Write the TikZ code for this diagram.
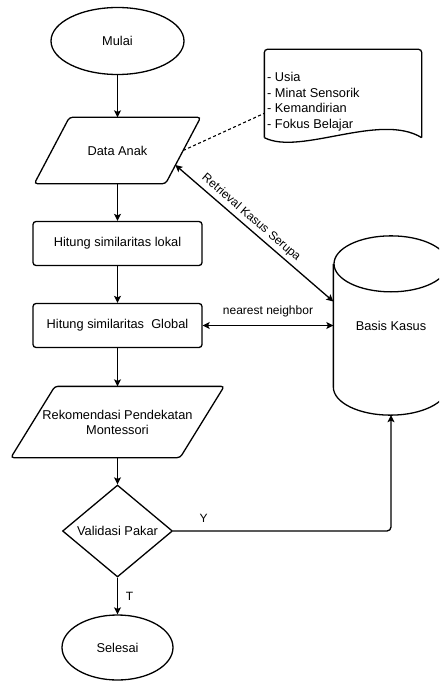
\documentclass[tikz,border=0pt]{standalone}
\usepackage{fontspec}
\setmainfont{Liberation Sans}
\usetikzlibrary{shapes.geometric,arrows.meta,calc}
\begin{document}
\begin{tikzpicture}[x=1pt,y=1pt,
  line width=1.3pt,
  >={Stealth[length=7pt,width=7pt,inset=1.5pt]},
  every node/.style={font=\fontsize{12.8}{15}\selectfont, text=black},
  term/.style={ellipse, draw, minimum width=133pt, minimum height=67pt, inner sep=0pt},
  proc/.style={rectangle, draw, rounded corners=3pt, minimum width=169pt, minimum height=44pt, inner sep=0pt},
  iotext/.style={rectangle, inner sep=0pt, align=center},
  dec/.style={diamond, draw, minimum width=110pt, minimum height=92pt, inner sep=0pt, aspect=1.2},
  lbl/.style={font=\fontsize{12}{14}\selectfont},
  para/.style={rounded corners=3pt},
]
\clip (0,0) rectangle (439,-682);

% nodes
\node[term] (mulai) at (117.5,-41) {Mulai};
\node[iotext, minimum width=130pt, minimum height=65pt] (da) at (117.5,-150.5) {Data Anak};
\draw[para] ($(da.south west)+(-17.5,0)$) -- ($(da.north west)+(17.5,0)$) -- ($(da.north east)+(17.5,0)$) -- ($(da.south east)+(-17.5,0)$) -- cycle;

\node[proc] (hl) at (117.5,-243.5) {Hitung similaritas lokal};
\node[proc] (hg) at (117.5,-325.5) {Hitung similaritas\ \ Global};

\node[iotext, minimum width=168pt, minimum height=70pt] (rek) at (117.5,-422) {Rekomendasi Pendekatan\\Montessori};
\draw[para] ($(rek.south west)+(-22,0)$) -- ($(rek.north west)+(22,0)$) -- ($(rek.north east)+(22,0)$) -- ($(rek.south east)+(-22,0)$) -- cycle;

\node[dec] (vp) at (117.5,-531) {Validasi Pakar};
\node[term, minimum width=111pt, minimum height=65pt] (sel) at (117.5,-647.5) {Selesai};

% Basis Kasus cylinder
\node[iotext, minimum width=114pt, minimum height=178pt] (bk) at (391,-325.5) {Basis Kasus};
\draw ($(bk.north west)+(0,-28)$) -- ($(bk.south west)+(0,28)$)
  arc[start angle=180, end angle=360, x radius=57, y radius=28] -- ($(bk.north east)+(0,-28)$);
\draw ($(bk.north)+(0,-28)$) ellipse [x radius=57, y radius=28];

% document
\node[rectangle, inner sep=0pt, minimum width=156pt, minimum height=87pt] (doc) at (343,-93.5) {};
\draw[rounded corners=3pt] (doc.south west) -- (doc.north west) -- (doc.north east) -- (doc.south east);
\draw (doc.south east) .. controls (380,-112) and (300,-156) .. (doc.south west);
\node[anchor=west, align=left, inner sep=0pt, font=\fontsize{12.8}{15.5}\selectfont] (doctxt) at (266.5,-101.5) {- Usia\\- Minat Sensorik\\- Kemandirian\\- Fokus Belajar};
\coordinate (docl) at ($(doc.north west)!0.724!(doc.south west)$);

% connectors
\draw[->] (mulai) -- (da);
\draw[->] (da) -- (hl);
\draw[->] (hl) -- (hg);
\draw[->] (hg) -- (rek);
\draw[->] (rek) -- (vp);
\draw[->] (vp) -- node[lbl, right=4.5pt, pos=0.5] {T} (sel);
\draw[<->] (hg.east) -- node[lbl, above=5pt] {nearest neighbor} (hg.east -| bk.west);
\draw[<->] ($(da.east)+(-7.8pt,-14.5pt)$) -- node[lbl, sloped, above, pos=0.44] {Retrieval Kasus Serupa} ($(bk.west)+(0,24pt)$);
\draw[->, rounded corners=4pt] (vp.east) -| node[lbl, pos=0.07, above=5pt] {Y} (bk.south);
\draw[dash pattern=on 3pt off 2.5pt, line width=1.1pt] (da.east) -- (docl);
\end{tikzpicture}
\end{document}
